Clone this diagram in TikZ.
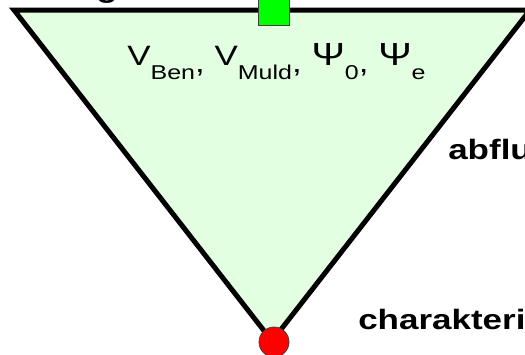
\documentclass[tikz,border=0pt]{standalone}
\usepackage{fontspec}
\setmainfont{Liberation Sans}
\usetikzlibrary{positioning}
\definecolor{flaeche}{RGB}{226,255,226}
\definecolor{zulauf}{RGB}{0,255,0}
\definecolor{auslass}{RGB}{255,0,0}
% index tiefgestellt, wie im original
\newcommand{\idx}[1]{\raisebox{-14pt}{\fontsize{20}{20}\selectfont #1}}
\newcommand{\km}{\raisebox{-7pt}{,}}
\newcommand{\gPsi}{{\fontsize{32}{32}\selectfont Ψ}}

\begin{document}
\begin{tikzpicture}[x=1pt,y=-1pt,
    rand/.style={draw=black, line width=5pt, fill=flaeche, line join=miter},
    oben/.style={rectangle, draw=black!75, fill=zulauf, minimum size=31pt,
                 inner sep=0pt, line width=0.8pt},
    unten/.style={circle, draw=black!75, fill=auslass, minimum size=30pt,
                  inner sep=0pt, line width=0.8pt},
    werte/.style={font=\fontsize{28}{32}\selectfont, anchor=base west,
                  inner sep=0pt, xscale=1.25},
    label/.style={font=\fontsize{28}{32}\selectfont\bfseries, anchor=base west,
                  inner sep=0pt, xscale=1.25},
]
\useasboundingbox (0,0) rectangle (525,354);

\coordinate (links) at (14,10);
\coordinate (rechts) at (530,10);
\coordinate (spitze) at (272,341);

\draw[rand] (links) -- (rechts) -- (spitze) -- cycle;

\node[oben] (zu) at (274,10) {};
\node[unten] (aus) at (274,342) {};

\node[werte] (para) at (127,65)
  {V\idx{Ben}\km{} V\idx{Muld}\km{} \gPsi\idx{0}\km{} \gPsi\idx{e}};

\node[label] (g) at (96,-3) {g};
\node[label] (abfluss) at (448,159) {abflu};
\node[label] (kennw) at (358,329) {charakteri};

\end{tikzpicture}
\end{document}
